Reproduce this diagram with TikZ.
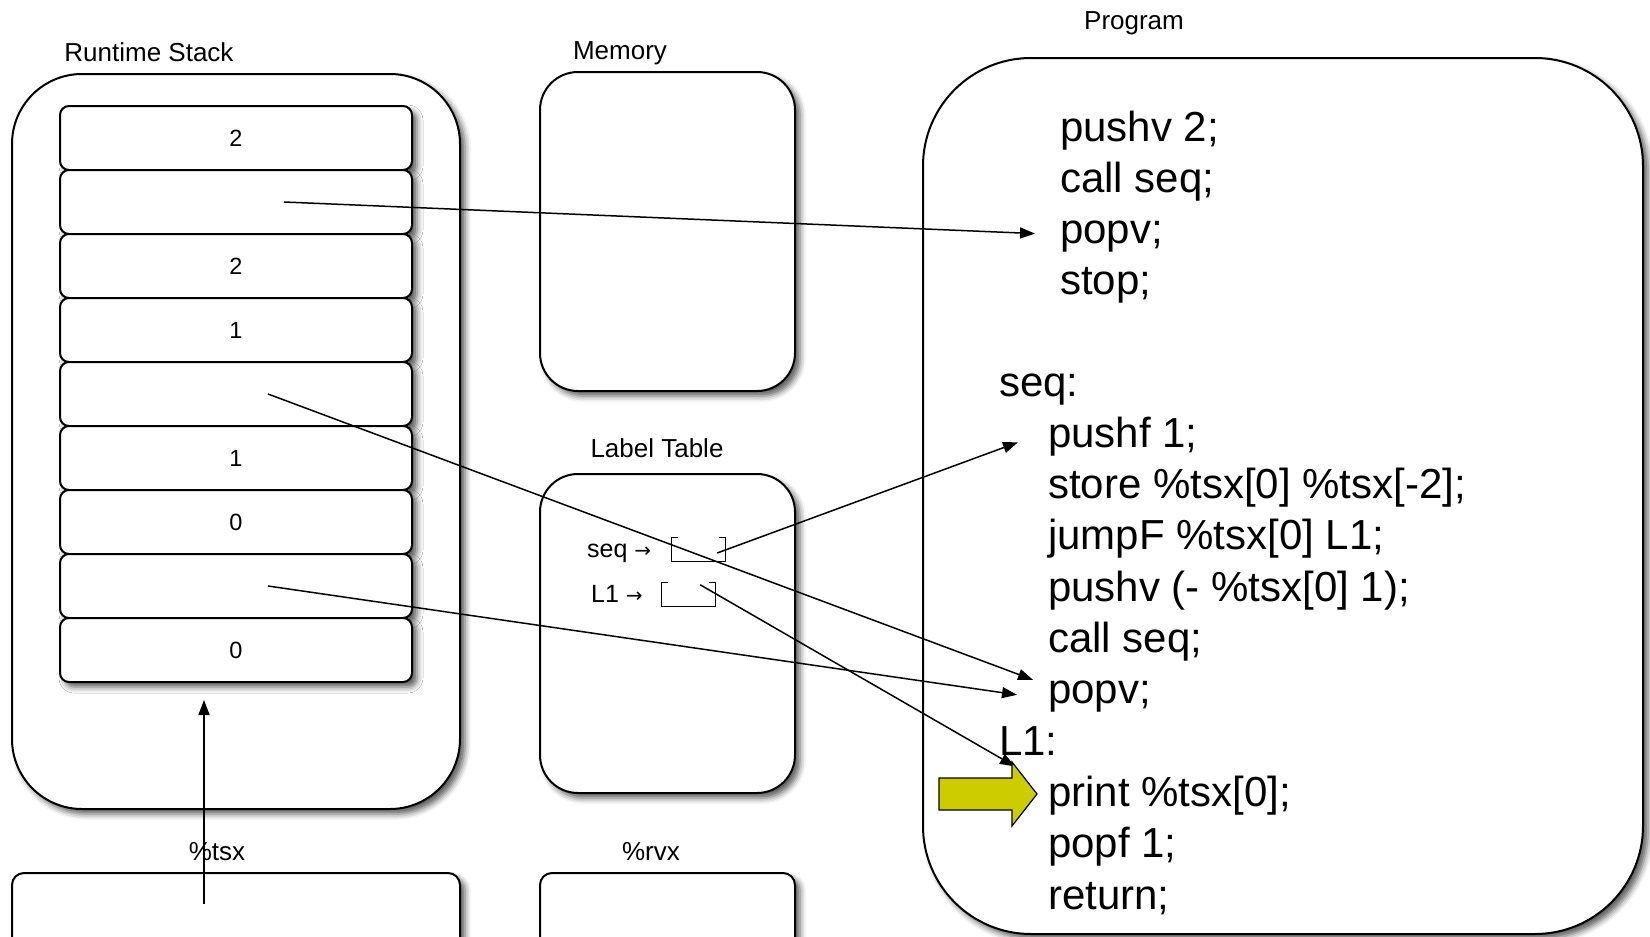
\documentclass[tikz,border=0pt]{standalone}
\usepackage{fontspec}
\setmainfont{Liberation Sans}
\newfontfamily\symfont{DejaVu Sans}
\usetikzlibrary{calc,arrows.meta,shadows.blur}
\definecolor{ptrYellow}{RGB}{204,204,0}
\begin{document}
\begin{tikzpicture}[x=1pt,y=-1pt,
  box/.style={draw, line width=2pt, fill=white, rectangle, inner sep=0pt,
    blur shadow={shadow xshift=5pt, shadow yshift=-5pt, shadow blur radius=6pt, shadow opacity=65}},
  cell/.style={box, rounded corners=9pt, minimum width=352pt, minimum height=64pt,
    font=\fontsize{23.5}{23.5}\selectfont},
  lbl/.style={inner sep=0pt, anchor=base, font=\fontsize{26}{26}\selectfont},
  code/.style={inner sep=0pt, anchor=base west, font=\fontsize{42}{42}\selectfont},
  tbl/.style={inner sep=0pt, anchor=base west, font=\fontsize{25}{25}\selectfont},
  slot/.style={inner sep=0pt, minimum width=53pt, minimum height=23pt},
  conn/.style={line width=1.5pt, -{Triangle[length=15pt,width=11pt]}},
]
\useasboundingbox (0,0) rectangle (1650,937);
\clip (0,0) rectangle (1650,937);

% big containers
\node[box, rounded corners=70pt, minimum width=448pt, minimum height=735pt] (stack) at (236,441.5) {};
\node[box, rounded corners=38pt, minimum width=255pt, minimum height=319pt] (mem) at (667.5,231.5) {};
\node[box, rounded corners=38pt, minimum width=255pt, minimum height=319pt] (ltab) at (667.5,633.5) {};
\node[box, rounded corners=12pt, minimum width=448pt, minimum height=120pt] (tsx) at (236,933) {};
\node[box, rounded corners=12pt, minimum width=255pt, minimum height=120pt] (rvx) at (667.5,933) {};
\node[box, rounded corners=108pt, minimum width=720pt, minimum height=876pt] (prog) at (1283,496) {};

% stack cells
\node[cell] (c1) at (236,138) {2};
\node[cell] (c2) at (236,202) {};
\node[cell] (c3) at (236,266) {2};
\node[cell] (c4) at (236,330) {1};
\node[cell] (c5) at (236,394) {};
\node[cell] (c6) at (236,458) {1};
\node[cell] (c7) at (236,522) {0};
\node[cell] (c8) at (236,586) {};
\node[cell] (c9) at (236,650) {0};

% titles
\node[lbl] (tstack) at (149,61) {Runtime Stack};
\node[lbl] (tmem) at (620,59) {Memory};
\node[lbl] (tprog) at (1134,29) {Program};
\node[lbl] (tltab) at (657,457) {Label Table};
\node[lbl] (ttsx) at (217,860) {\%tsx};
\node[lbl] (trvx) at (651,860) {\%rvx};

% label table entries
\node[tbl] (lseq) at (587,557) {seq {\symfont\fontsize{20}{20}\selectfont →}};
\node[tbl] (lL1) at (591,602) {L1 {\symfont\fontsize{20}{20}\selectfont →}};
\node[slot] (bseq) at (698.5,549.5) {};
\node[slot] (bL1) at (688.5,594.5) {};
\foreach \b in {bseq,bL1}{
  \draw[line width=1.3pt] ($(\b.north west)+(6,0)$) -- (\b.north west) -- (\b.south west)
    -- (\b.south east) -- (\b.north east) -- ++(-6,0);
}

% program text
\node[code] (p1) at (1060,141) {pushv 2;};
\node[code] (p2) at (1060,192.3) {call seq;};
\node[code] (p3) at (1060,243.6) {popv;};
\node[code] (p4) at (1060,294.9) {stop;};
\node[code] (p5) at (999,396) {seq:};
\node[code] (p6) at (1048,447.3) {pushf 1;};
\node[code] (p7) at (1048,498.6) {store \%tsx[0] \%tsx[-2];};
\node[code] (p8) at (1048,549.9) {jumpF \%tsx[0] L1;};
\node[code] (p9) at (1048,601.2) {pushv (- \%tsx[0] 1);};
\node[code] (p10) at (1048,652.5) {call seq;};
\node[code] (p11) at (1048,703.8) {popv;};
\node[code] (p12) at (999,755.1) {L1:};
\node[code] (p13) at (1048,806.4) {print \%tsx[0];};
\node[code] (p14) at (1048,857.7) {popf 1;};
\node[code] (p15) at (1048,909) {return;};

% connector end points
\coordinate (s1) at ($(c2.center)+(48,0)$);
\coordinate (s2) at ($(c5.center)+(32,0)$);
\coordinate (s3) at ($(c8.center)+(32,0)$);
\coordinate (s4) at ($(bseq.east)+(-8,3.5)$);
\coordinate (s5) at ($(bL1.north east)+(-15,2)$);
\coordinate (s6) at ($(tsx.north)+(-32,32)$);
\coordinate (e1) at ($(p3.base west)+(-25,-10)$);
\coordinate (e2) at ($(p11.base west)+(-15,-24)$);
\coordinate (e3) at ($(p11.base west)+(-31,-9)$);
\coordinate (e4) at ($(p6.base west)+(-30,-5)$);
\coordinate (e5) at ($(p13.base west)+(-33,-40)$);
\coordinate (e6) at ($(c9.south)+(-32,17)$);

\draw[conn] (s1) -- (e1);
\draw[conn] (s2) -- (e2);
\draw[conn] (s3) -- (e3);
\draw[conn] (s4) -- (e4);
\draw[conn] (s5) -- (e5);
\draw[conn] (s6) -- (e6);

% current instruction pointer
\draw[fill=ptrYellow, line width=1.2pt] (939,778) -- (1012,778) -- (1012,762) -- (1037,794)
  -- (1012,826) -- (1012,810) -- (939,810) -- cycle;
\end{tikzpicture}
\end{document}
